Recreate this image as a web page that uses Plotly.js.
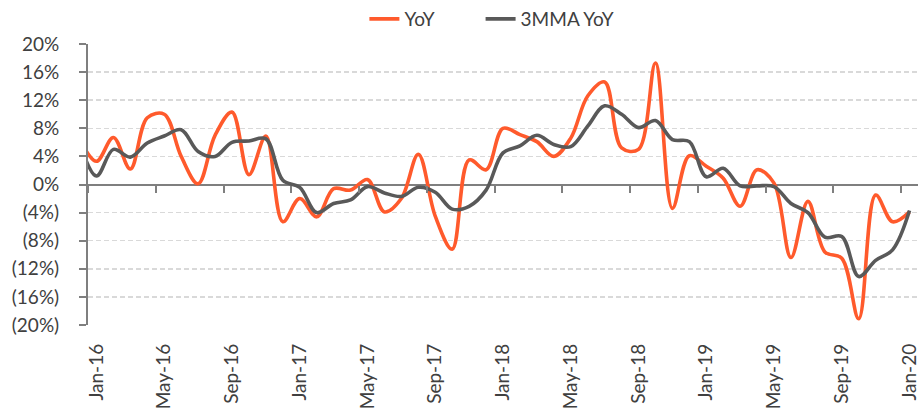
<!DOCTYPE html>
<html>
<head>
<meta charset="utf-8">
<script src="https://cdn.plot.ly/plotly-3.0.1.min.js"></script>
<style>
  html, body { margin: 0; padding: 0; background: #ffffff; }
  #chart { width: 922px; height: 408px; }
</style>
</head>
<body>
<div id="chart"></div>
<script>
// Months (Dec-15 is only partly visible at the left edge)
const months = [
  "Dec-15",
  "Jan-16","Feb-16","Mar-16","Apr-16","May-16","Jun-16","Jul-16","Aug-16","Sep-16","Oct-16","Nov-16","Dec-16",
  "Jan-17","Feb-17","Mar-17","Apr-17","May-17","Jun-17","Jul-17","Aug-17","Sep-17","Oct-17","Nov-17","Dec-17",
  "Jan-18","Feb-18","Mar-18","Apr-18","May-18","Jun-18","Jul-18","Aug-18","Sep-18","Oct-18","Nov-18","Dec-18",
  "Jan-19","Feb-19","Mar-19","Apr-19","May-19","Jun-19","Jul-19","Aug-19","Sep-19","Oct-19","Nov-19","Dec-19",
  "Jan-20"
];

// YoY growth (%)
const yoy = [
  6.5,
  3.3, 6.7, 2.2, 9.5, 10.0, 4.0, 0.1, 7.0, 10.3, 1.4, 6.9, -5.3,
  -2.0, -4.6, -0.6, -0.8, 0.7, -3.9, -2.0, 4.3, -4.5, -9.2, 3.5, 2.1,
  8.0, 7.1, 6.1, 4.0, 6.6, 12.6, 14.6, 5.2, 5.0, 17.3, -3.4, 4.1,
  2.6, 0.9, -3.1, 2.1, 0.2, -10.4, -2.4, -9.6, -10.5, -19.1, -1.5, -5.3,
  -3.9
];

// 3-month moving average of YoY (%)
const mma3 = [
  6.0,
  1.2, 5.0, 3.9, 5.9, 6.9, 7.8, 4.7, 4.0, 6.0, 6.2, 6.5, 0.6,
  -0.4, -4.0, -2.7, -2.2, -0.3, -1.2, -1.7, -0.4, -1.1, -3.5, -3.1, -0.8,
  4.5, 5.5, 7.0, 5.7, 5.4, 8.3, 11.2, 10.0, 8.1, 9.1, 6.4, 6.1,
  1.1, 2.3, -0.2, -0.2, -0.3, -2.7, -4.0, -7.5, -7.4, -13.1, -10.8, -9.3,
  -3.7
];

const seriesNames = ["YoY", "3MMA YoY"];

// Axis labels
const xTickLabels = ["Jan-16","May-16","Sep-16","Jan-17","May-17","Sep-17","Jan-18","May-18","Sep-18","Jan-19","May-19","Sep-19","Jan-20"];
const yTickVals = [20, 16, 12, 8, 4, 0, -4, -8, -12, -16, -20];
const yTickText = ["20%","16%","12%","8%","4%","0%","(4%)","(8%)","(12%)","(16%)","(20%)"];

const FONT = "Lato, 'Open Sans', sans-serif";
const TXT = "#404040";
const AXC = "#7f7f7f";

// tick marks sit on the boundaries between categories
const boundaryTicks = xTickLabels.map(l => months.indexOf(l) - 0.5);
const xRange = [months.indexOf("Jan-16") - 0.5, months.length - 0.5];

const traces = [
  {
    x: months, y: yoy, name: seriesNames[0], type: "scatter", mode: "lines",
    line: { color: "#ff5a2c", width: 3.6, shape: "spline", smoothing: 1 },
    hoverinfo: "skip", legend: "legend"
  },
  {
    x: months, y: mma3, name: seriesNames[1], type: "scatter", mode: "lines",
    line: { color: "#595959", width: 3.6, shape: "spline", smoothing: 1 },
    hoverinfo: "skip", legend: "legend2"
  },
  { x: [], y: [], xaxis: "x2", yaxis: "y", showlegend: false, hoverinfo: "skip", type: "scatter", mode: "lines" }
];

const legendStyle = {
  orientation: "h", xanchor: "left", y: 1.089, yanchor: "middle",
  font: { family: FONT, size: 19, color: TXT },
  bgcolor: "rgba(0,0,0,0)", borderwidth: 0
};

const layout = {
  width: 922, height: 408,
  margin: { l: 88, r: 4, t: 44, b: 83, pad: 0, autoexpand: false },
  paper_bgcolor: "#ffffff", plot_bgcolor: "#ffffff",
  font: { family: FONT, color: TXT, size: 16 },
  showlegend: true,
  legend: Object.assign({}, legendStyle, { x: 0.333 }),
  legend2: Object.assign({}, legendStyle, { x: 0.473 }),
  xaxis: {
    type: "category", categoryorder: "array", categoryarray: months,
    range: xRange, tickmode: "array", tickvals: xTickLabels, ticktext: xTickLabels,
    tickangle: -90, ticks: "", showgrid: false, zeroline: false, showline: false,
    tickfont: { family: FONT, size: 19, color: TXT }, ticklabelstandoff: 14,
    automargin: false, fixedrange: true
  },
  xaxis2: {
    type: "linear", overlaying: "x", anchor: "free", position: 0.5, side: "bottom",
    range: xRange, tickmode: "array", tickvals: boundaryTicks,
    ticks: "outside", ticklen: 7, tickwidth: 2, tickcolor: AXC,
    showticklabels: false, showgrid: false, zeroline: false, showline: false,
    automargin: false, fixedrange: true
  },
  yaxis: {
    range: [-20, 20], tickmode: "array", tickvals: yTickVals, ticktext: yTickText,
    ticks: "outside", ticklen: 7, tickwidth: 2, tickcolor: AXC,
    showline: true, linecolor: AXC, linewidth: 2,
    showgrid: true, gridcolor: "#d9d9d9", gridwidth: 1.5, griddash: "5px,3px",
    zeroline: true, zerolinecolor: AXC, zerolinewidth: 2,
    tickfont: { family: FONT, size: 19, color: TXT }, ticklabelstandoff: 16,
    automargin: false, fixedrange: true
  }
};

Plotly.newPlot("chart", traces, layout, { staticPlot: true, displayModeBar: false });
</script>
</body>
</html>
